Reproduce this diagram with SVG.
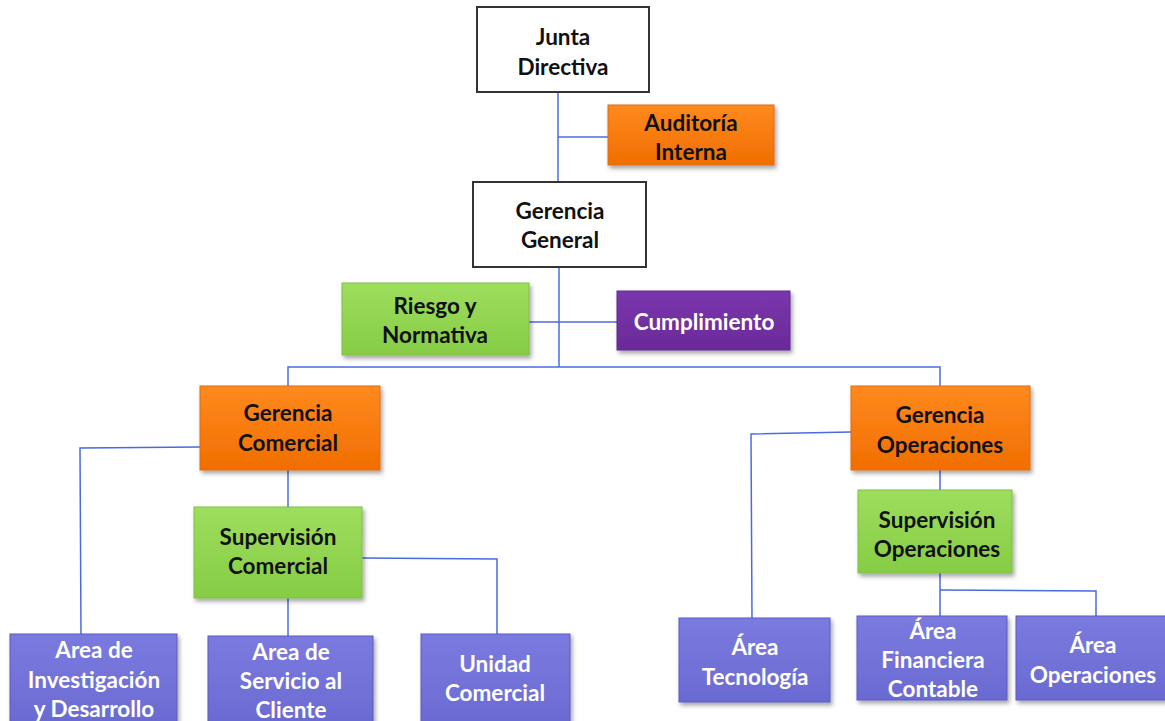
<svg xmlns="http://www.w3.org/2000/svg" width="1165" height="721" viewBox="0 0 1165 721">
<defs>
<linearGradient id="gOr" x1="0" y1="0" x2="0" y2="1"><stop offset="0" stop-color="#ff8a1e"/><stop offset="1" stop-color="#f06e00"/></linearGradient>
<linearGradient id="gGr" x1="0" y1="0" x2="0" y2="1"><stop offset="0" stop-color="#9ede5e"/><stop offset="1" stop-color="#86cc44"/></linearGradient>
<linearGradient id="gPu" x1="0" y1="0" x2="0" y2="1"><stop offset="0" stop-color="#7a36ad"/><stop offset="1" stop-color="#6a2a98"/></linearGradient>
<linearGradient id="gLv" x1="0" y1="0" x2="0" y2="1"><stop offset="0" stop-color="#7a7adf"/><stop offset="1" stop-color="#6a6ad2"/></linearGradient>
<filter id="sh" x="-10%" y="-10%" width="125%" height="135%"><feDropShadow dx="2" dy="3" stdDeviation="2" flood-color="#000" flood-opacity="0.35"/></filter>
</defs>
<style>
.w{fill:#fff;stroke:#333;stroke-width:2}
.o{fill:url(#gOr);stroke:#e06a10;stroke-width:1;filter:url(#sh)}
.g{fill:url(#gGr);stroke:#7fbf40;stroke-width:1;filter:url(#sh)}
.p{fill:url(#gPu);stroke:#5d2a8a;stroke-width:1;filter:url(#sh)}
.l{fill:url(#gLv);stroke:#5a5ac4;stroke-width:1;filter:url(#sh)}
text{font-family:Lato,"Open Sans","Liberation Sans",sans-serif;font-weight:bold;font-size:22.5px;text-anchor:middle}
.dk{fill:#111}
.lt{fill:#fff}
.c line,.c polyline{stroke:#4a6be0;stroke-width:1.5;fill:none}
</style>
<g class="c" id="connectors">
<line x1="558" y1="92" x2="558" y2="182"/>
<line x1="558" y1="137" x2="608" y2="137"/>
<line x1="559" y1="267" x2="559" y2="367"/>
<line x1="529" y1="322" x2="617" y2="322"/>
<polyline points="288,386 288,367 940,367 940,386"/>
<polyline points="200,447 80,448 81,634"/>
<line x1="288" y1="470" x2="288" y2="507"/>
<line x1="288" y1="598" x2="288" y2="636"/>
<polyline points="362,558 497,559 497,634"/>
<polyline points="851,432 751,434 752,618"/>
<line x1="940" y1="470" x2="940" y2="490"/>
<polyline points="940,573 940,625"/>
<polyline points="940,590 1096,591 1096,616"/>
</g>
<g id="junta"><rect class="w" x="477" y="7" width="172" height="85"/><text class="dk" x="563" y="45">Junta</text><text class="dk" x="563" y="75">Directiva</text></g>
<g id="auditoria"><rect class="o" x="608" y="105" width="166" height="60"/><text class="dk" x="691" y="131">Auditoría</text><text class="dk" x="691" y="160">Interna</text></g>
<g id="gerencia-general"><rect class="w" x="473" y="182" width="173" height="85"/><text class="dk" x="560" y="219">Gerencia</text><text class="dk" x="560" y="248">General</text></g>
<g id="riesgo"><rect class="g" x="342" y="283" width="187" height="72"/><text class="dk" x="435" y="314">Riesgo y</text><text class="dk" x="435" y="343">Normativa</text></g>
<g id="cumplimiento"><rect class="p" x="617" y="291" width="173" height="59"/><text class="lt" x="704" y="330">Cumplimiento</text></g>
<g id="gerencia-comercial"><rect class="o" x="200" y="386" width="180" height="84"/><text class="dk" x="288" y="421">Gerencia</text><text class="dk" x="288" y="451">Comercial</text></g>
<g id="supervision-comercial"><rect class="g" x="194" y="507" width="168" height="91"/><text class="dk" x="278" y="545">Supervisión</text><text class="dk" x="278" y="574">Comercial</text></g>
<g id="area-investigacion"><rect class="l" x="10" y="634" width="167" height="92"/><text class="lt" x="94" y="658">Area de</text><text class="lt" x="94" y="688">Investigación</text><text class="lt" x="94" y="717">y Desarrollo</text></g>
<g id="area-servicio"><rect class="l" x="208" y="636" width="165" height="90"/><text class="lt" x="291" y="660">Area de</text><text class="lt" x="291" y="689">Servicio al</text><text class="lt" x="291" y="718">Cliente</text></g>
<g id="unidad-comercial"><rect class="l" x="421" y="634" width="149" height="92"/><text class="lt" x="495" y="672">Unidad</text><text class="lt" x="495" y="701">Comercial</text></g>
<g id="gerencia-operaciones"><rect class="o" x="851" y="386" width="179" height="84"/><text class="dk" x="940" y="423">Gerencia</text><text class="dk" x="940" y="453">Operaciones</text></g>
<g id="supervision-operaciones"><rect class="g" x="858" y="490" width="154" height="83"/><text class="dk" x="937" y="528">Supervisión</text><text class="dk" x="937" y="557">Operaciones</text></g>
<g id="area-tecnologia"><rect class="l" x="679" y="618" width="151" height="84"/><text class="lt" x="755" y="655">Área</text><text class="lt" x="755" y="685">Tecnología</text></g>
<g id="area-financiera"><rect class="l" x="857" y="616" width="150" height="84"/><text class="lt" x="933" y="639">Área</text><text class="lt" x="933" y="668">Financiera</text><text class="lt" x="933" y="697">Contable</text></g>
<g id="area-operaciones"><rect class="l" x="1016" y="616" width="150" height="84"/><text class="lt" x="1093" y="653">Área</text><text class="lt" x="1093" y="683">Operaciones</text></g>
</svg>
